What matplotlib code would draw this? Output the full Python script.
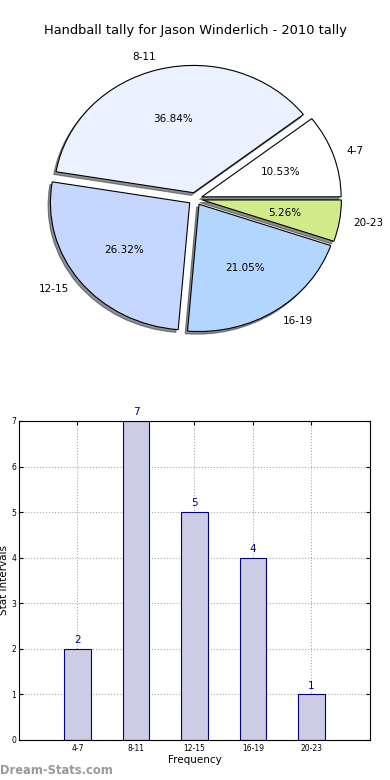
import matplotlib
matplotlib.use("Agg")
import matplotlib.pyplot as plt

categories = ["4-7", "8-11", "12-15", "16-19", "20-23"]
counts = [2, 7, 5, 4, 1]
pie_colors = ["#ffffff", "#eaf1ff", "#c5d7ff", "#b3d6ff", "#d0ec8a"]
title = "Handball tally for Jason Winderlich - 2010 tally"

fig = plt.figure(figsize=(3.9, 7.8), dpi=100)

# Pie chart
ax1 = fig.add_axes([0.054, 0.541, 0.893, 0.408])
wedges, texts, autotexts = ax1.pie(
    counts, labels=categories, colors=pie_colors, explode=[0.05] * len(counts),
    autopct="%1.2f%%", shadow=dict(ox=-0.012, oy=-0.015, shade=0.85),
    startangle=0, counterclock=True,
    wedgeprops=dict(edgecolor="black", linewidth=0.8),
    textprops=dict(fontsize=7.5))
ax1.set_aspect("auto")
ax1.set_xlim(-1.25, 1.25)
ax1.set_ylim(-1.25, 1.25)
fig.text(0.5, 0.961, title, ha="center", va="center", fontsize=9.4)

# Bar chart
ax2 = fig.add_axes([0.0487, 0.0513, 0.9, 0.409])
xpos = list(range(1, len(categories) + 1))
bars = ax2.bar(xpos, counts, width=0.45, color="#ccccE4", edgecolor="#000080",
               linewidth=0.8, zorder=2)
for x, v in zip(xpos, counts):
    ax2.text(x, v + 0.08, str(v), ha="center", va="bottom", color="#000080",
             fontsize=7.5)
ax2.set_xlim(0, 6)
ax2.set_ylim(0, 7)
ax2.set_xticks(xpos)
ax2.set_xticklabels(categories, fontsize=5.5)
ax2.set_yticks(range(0, 8))
ax2.tick_params(axis="y", labelsize=5.5, direction="in", length=3, pad=2)
ax2.tick_params(axis="x", direction="in", length=3, pad=3)
ax2.tick_params(right=True, top=True, direction="in")
ax2.grid(True, linestyle=":", color="#aaaaaa", linewidth=0.8, zorder=0)
ax2.set_axisbelow(True)
ax2.set_xlabel("Frequency", fontsize=7.5, labelpad=1)
ax2.set_ylabel("Stat intervals", fontsize=7.5, labelpad=2)
fig.text(0.0, 0.012, "Dream-Stats.com", ha="left", va="center", fontsize=8.3,
         color="#999999", fontweight="semibold")

fig.savefig("out.png", dpi=100)
